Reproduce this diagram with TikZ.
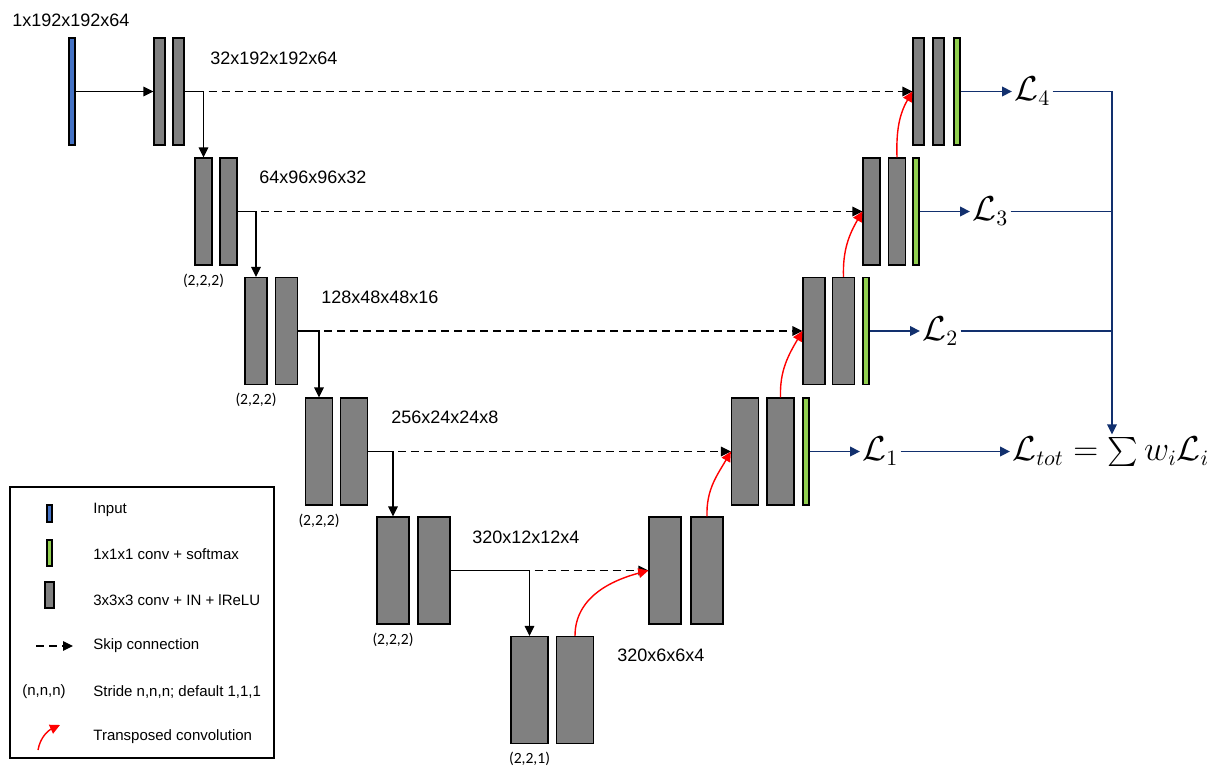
\documentclass[tikz,border=0pt]{standalone}
\usepackage{fontspec}
\setmainfont{Liberation Sans}
\newfontfamily\stridefont{Carlito}
\usetikzlibrary{arrows.meta,positioning}
\definecolor{convgray}{RGB}{128,128,128}
\definecolor{inblue}{RGB}{68,114,196}
\definecolor{outgreen}{RGB}{146,208,80}
\definecolor{lossblue}{RGB}{18,48,110}
\tikzset{
  block/.style={draw, line width=0.6pt, fill=convgray, inner sep=0pt, minimum height=53.5pt},
  inbar/.style={block, fill=inblue, minimum width=3pt},
  outbar/.style={block, fill=outgreen, minimum width=3pt},
  dimlabel/.style={anchor=west, inner sep=0pt, font=\fontsize{9}{11}\selectfont},
  stride/.style={inner sep=0pt, font=\stridefont\fontsize{7.8}{9}\selectfont},
  loss/.style={anchor=west, inner sep=1pt, font=\fontsize{16}{19}\selectfont},
  legtext/.style={anchor=west, inner sep=0pt, font=\fontsize{7.5}{9}\selectfont},
  flow/.style={-{Triangle[length=5pt,width=4.8pt]}, line width=0.6pt},
  skip/.style={flow, dash pattern=on 4pt off 2.5pt, dash phase=4pt},
  upconv/.style={-{Triangle[length=5pt,width=4.8pt]}, red, line width=0.7pt},
  lossline/.style={lossblue, line width=0.8pt},
  lossflow/.style={lossline, -{Triangle[length=5pt,width=4.8pt]}},
}
\begin{document}
\begin{tikzpicture}[x=0.5pt, y=-0.5pt]
  \useasboundingbox (0,0) rectangle (1214,765);
  % encoder
  \node[inbar] (in) at (72,91.5) {};
  \node[block, minimum width=5.5pt] (e1a) at (159.5,91.5) {};
  \node[block, minimum width=5.5pt] (e1b) at (178.5,91.5) {};
  \node[block, minimum width=8.5pt] (e2a) at (203.5,211.5) {};
  \node[block, minimum width=8.5pt] (e2b) at (228.5,211.5) {};
  \node[block, minimum width=11pt] (e3a) at (256,331) {};
  \node[block, minimum width=11pt] (e3b) at (286.5,331) {};
  \node[block, minimum width=13.5pt] (e4a) at (319,451.5) {};
  \node[block, minimum width=13.5pt] (e4b) at (354,451.5) {};
  \node[block, minimum width=16pt] (e5a) at (393,570.5) {};
  \node[block, minimum width=16pt] (e5b) at (434,570.5) {};
  \node[block, minimum width=18.5pt] (b6a) at (529.5,690) {};
  \node[block, minimum width=18.5pt] (b6b) at (575,690) {};
  % decoder
  \node[block, minimum width=16pt] (d5a) at (665,570.5) {};
  \node[block, minimum width=16pt] (d5b) at (707,570.5) {};
  \node[block, minimum width=13.5pt] (d4a) at (745,451.5) {};
  \node[block, minimum width=13.5pt] (d4b) at (780.5,451.5) {};
  \node[outbar] (g1) at (806,451.5) {};
  \node[block, minimum width=11pt] (d3a) at (814,331) {};
  \node[block, minimum width=11pt] (d3b) at (843.5,331) {};
  \node[outbar] (g2) at (866,331) {};
  \node[block, minimum width=8.5pt] (d2a) at (871.5,211.5) {};
  \node[block, minimum width=8.5pt] (d2b) at (897,211.5) {};
  \node[outbar] (g3) at (916,211.5) {};
  \node[block, minimum width=5.5pt] (d1a) at (918.5,91.5) {};
  \node[block, minimum width=5.5pt] (d1b) at (938.5,91.5) {};
  \node[outbar] (g4) at (957,91.5) {};
  % sizes
  \node[dimlabel] (s0) at (12,20) {1x192x192x64};
  \node[dimlabel] (s1) at (210,58) {32x192x192x64};
  \node[dimlabel] (s2) at (259,177) {64x96x96x32};
  \node[dimlabel] (s3) at (321,297) {128x48x48x16};
  \node[dimlabel] (s4) at (391,417) {256x24x24x8};
  \node[dimlabel] (s5) at (472,537) {320x12x12x4};
  \node[dimlabel] (s6) at (617,655) {320x6x6x4};
  \node[stride, below=4pt of e2a] (t2) {(2,2,2)};
  \node[stride, below=4pt of e3a] (t3) {(2,2,2)};
  \node[stride, below=4pt of e4a] (t4) {(2,2,2)};
  \node[stride, below=4pt of e5a] (t5) {(2,2,2)};
  \node[stride, below=4pt of b6a] (t6) {(2,2,1)};
  % down path
  \draw[flow] (in) -- (e1a);
  \draw[flow] (e1b.east) -| (e2a.north);
  \draw[flow] (e2b.east) -| (e3a.north);
  \draw[flow] (e3b.east) -| (e4a.north);
  \draw[flow] (e4b.east) -| (e5a.north);
  \draw[flow] (e5b.east) -| (b6a.north);
  % skips
  \draw[skip] (e1b.east -| e2a.north) -- (d1a.west);
  \draw[skip] (e2b.east -| e3a.north) -- (d2a.west);
  \draw[skip] (e3b.east -| e4a.north) -- (d3a.west);
  \draw[skip] (e4b.east -| e5a.north) -- (d4a.west);
  \draw[skip] (e5b.east -| b6a.north) -- (d5a.west);
  % up path
  \draw[upconv] (b6b.north) to[out=90, in=195] (d5a.west);
  \draw[upconv] (d5b.north) to[out=92, in=240] (d4a.west);
  \draw[upconv] (d4b.north) to[out=92, in=240] (d3a.west);
  \draw[upconv] (d3b.north) to[out=92, in=240] (d2a.west);
  \draw[upconv] (d2b.north) to[out=92, in=240] (d1a.west);
  % losses
  \node[loss] (l4) at (1012,91.5) {$\mathcal{L}_4$};
  \node[loss] (l3) at (970,211.5) {$\mathcal{L}_3$};
  \node[loss] (l2) at (920,331) {$\mathcal{L}_2$};
  \node[loss] (l1) at (860,451.5) {$\mathcal{L}_1$};
  \node[loss] (ltot) at (1010,451.5) {$\mathcal{L}_{tot} = \vcenter{\hbox{\scalebox{1.45}{$\sum$}}}\, w_i\mathcal{L}_i$};
  \coordinate (bus) at (1112,91.5);
  \draw[lossflow] (g4) -- (l4);
  \draw[lossflow] (g3) -- (l3);
  \draw[lossflow] (g2) -- (l2);
  \draw[lossflow] (g1) -- (l1);
  \draw[lossflow] (l1) -- (ltot);
  \draw[lossflow] (l4.east) -- (bus) -- (bus |- ltot.north);
  \draw[lossline] (l3.east) -- (l3.east -| bus);
  \draw[lossline] (l2.east) -- (l2.east -| bus);
  % legend
  \draw[line width=0.6pt] (10,487) rectangle (274,758);
  \node[block, fill=inblue, minimum width=2.5pt, minimum height=8.5pt] (kin) at (49.5,513.5) {};
  \node[block, fill=outgreen, minimum width=2.5pt, minimum height=13pt] (kout) at (49.5,553) {};
  \node[block, minimum width=4.5pt, minimum height=13pt] (kconv) at (49.5,595) {};
  \coordinate (ska) at (36,646);
  \coordinate (skb) at (73,646);
  \draw[flow, dash pattern=on 4pt off 2.5pt] (ska) -- (skb);
  \node[inner sep=0pt, font=\fontsize{7.5}{9}\selectfont] (kstr) at (44,692) {(n,n,n)};
  \coordinate (tca) at (38,750);
  \coordinate (tcb) at (60,725);
  \draw[upconv] (tca) to[out=80, in=205] (tcb);
  \node[legtext] at (93,510) {Input};
  \node[legtext] at (93,554) {1x1x1 conv + softmax};
  \node[legtext] at (93,600) {3x3x3 conv + IN + lReLU};
  \node[legtext] at (93,646) {Skip connection};
  \node[legtext] at (93,692) {Stride n,n,n; default 1,1,1};
  \node[legtext] at (93,737) {Transposed convolution};
\end{tikzpicture}
\end{document}
